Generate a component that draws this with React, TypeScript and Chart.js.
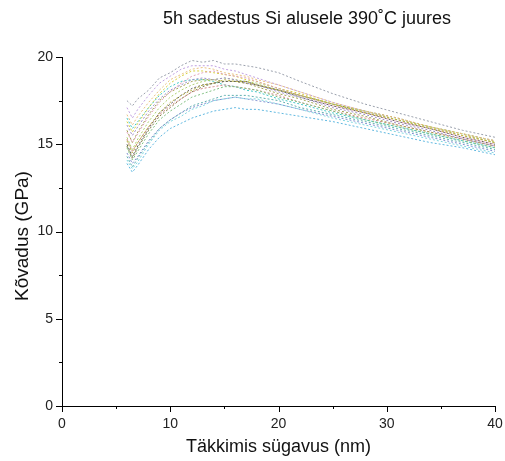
import React, { useEffect, useRef } from "react";
import { Chart, registerables } from "chart.js";

Chart.register(...registerables);

const titleText = "5h sadestus Si alusele 390˚C juures";
const xTitle = "Täkkimis sügavus (nm)";
const yTitle = "Kõvadus (GPa)";

const xTicks = [0, 10, 20, 30, 40];
const yTicks = [0, 5, 10, 15, 20];
const xMinor = [5, 15, 25, 35];
const yMinor = [2.5, 7.5, 12.5, 17.5];

const depth = [6, 6.5, 7, 8, 9, 10, 11, 12, 13, 14, 15, 16, 17, 18, 20, 22, 25, 28, 31, 34, 37, 40];

const s1 = [17.5, 17.2, 17.6, 18.1, 18.8, 19.1, 19.5, 19.8, 19.7, 19.8, 19.6, 19.6, 19.5, 19.4, 19.1, 18.6, 17.9, 17.3, 16.8, 16.3, 15.8, 15.4];
const s2 = [15.2, 14.5, 15.1, 16.0, 16.8, 17.4, 17.8, 18.1, 18.4, 18.5, 18.7, 18.6, 18.6, 18.4, 18.1, 17.8, 17.3, 16.8, 16.4, 15.9, 15.5, 15.1];
const s3 = [14.1, 13.6, 14.0, 15.0, 15.8, 16.3, 16.6, 17.0, 17.2, 17.5, 17.6, 17.7, 17.6, 17.6, 17.3, 17.0, 16.5, 16.1, 15.7, 15.3, 14.9, 14.5];
const s4 = [16.1, 15.5, 16.0, 16.9, 17.6, 18.1, 18.4, 18.7, 18.8, 18.7, 18.8, 18.7, 18.5, 18.4, 18.0, 17.7, 17.1, 16.7, 16.2, 15.8, 15.3, 14.9];
const s5 = [15.7, 15.1, 15.6, 16.6, 17.4, 18.0, 18.5, 18.9, 19.1, 19.2, 19.0, 18.9, 18.8, 18.6, 18.2, 17.8, 17.2, 16.8, 16.3, 15.9, 15.4, 15.0];
const s6 = [14.8, 14.1, 14.6, 15.6, 16.4, 16.9, 17.3, 17.7, 17.9, 18.1, 18.3, 18.3, 18.2, 18.1, 17.7, 17.4, 16.9, 16.4, 16.0, 15.6, 15.2, 14.8];
const s7 = [16.7, 16.1, 16.6, 17.4, 18.1, 18.7, 19.0, 19.3, 19.4, 19.3, 19.1, 19.0, 18.9, 18.7, 18.4, 18.0, 17.4, 16.9, 16.5, 16.0, 15.6, 15.2];
const s8 = [14.5, 13.9, 14.3, 15.2, 15.9, 16.4, 16.8, 17.1, 17.3, 17.5, 17.6, 17.7, 17.6, 17.5, 17.3, 17.0, 16.6, 16.2, 15.8, 15.4, 15.0, 14.6];
const s9 = [15.0, 14.3, 14.9, 15.9, 16.8, 17.3, 17.8, 18.2, 18.4, 18.5, 18.6, 18.6, 18.6, 18.4, 18.1, 17.7, 17.2, 16.8, 16.3, 15.9, 15.4, 15.0];
const s10 = [15.4, 14.7, 15.3, 16.3, 17.1, 17.7, 18.1, 18.4, 18.6, 18.7, 18.8, 18.7, 18.6, 18.5, 18.2, 17.8, 17.3, 16.9, 16.4, 16.0, 15.6, 15.1];
const s11 = [16.3, 15.7, 16.2, 17.1, 17.9, 18.5, 18.9, 19.2, 19.2, 19.1, 19.0, 18.9, 18.7, 18.6, 18.2, 17.9, 17.3, 16.8, 16.4, 16.0, 15.5, 15.1];
const s12 = [14.3, 13.7, 14.2, 15.1, 15.9, 16.4, 16.8, 17.2, 17.4, 17.6, 17.8, 17.8, 17.8, 17.7, 17.5, 17.1, 16.7, 16.3, 15.9, 15.5, 15.1, 14.7];
const s13 = [17.1, 16.5, 17.0, 17.8, 18.5, 18.9, 19.3, 19.5, 19.5, 19.5, 19.3, 19.2, 19.0, 18.8, 18.4, 18.0, 17.4, 16.9, 16.4, 16.0, 15.5, 15.1];
const s14 = [15.8, 15.1, 15.7, 16.7, 17.5, 18.0, 18.3, 18.6, 18.7, 18.7, 18.6, 18.6, 18.5, 18.3, 17.9, 17.6, 17.0, 16.6, 16.1, 15.7, 15.3, 14.9];
const s15 = [13.9, 13.4, 13.8, 14.7, 15.4, 15.9, 16.2, 16.5, 16.7, 16.9, 17.0, 17.1, 17.0, 17.0, 16.8, 16.6, 16.3, 15.9, 15.5, 15.1, 14.8, 14.4];
const s16 = [15.3, 14.6, 15.1, 16.0, 16.7, 17.2, 17.6, 18.0, 18.2, 18.3, 18.4, 18.3, 18.2, 18.1, 17.8, 17.4, 16.9, 16.5, 16.1, 15.7, 15.3, 14.9];
const s17 = [14.9, 14.2, 14.8, 15.8, 16.6, 17.1, 17.6, 18.0, 18.3, 18.5, 18.6, 18.6, 18.5, 18.4, 18.1, 17.8, 17.3, 16.9, 16.5, 16.0, 15.6, 15.2];
const s18 = [16.5, 15.9, 16.3, 17.1, 17.8, 18.3, 18.6, 18.7, 18.7, 18.6, 18.4, 18.3, 18.1, 18.0, 17.6, 17.3, 16.8, 16.4, 16.0, 15.6, 15.2, 14.8];

const seriesList = [s1, s2, s3, s4, s5, s6, s7, s8, s9, s10, s11, s12, s13, s14, s15, s16, s17, s18];
const colors = [
  "#9aa0ac", "#b8b040", "#7fd6e0", "#a090c8", "#e0a0b8", "#80c080",
  "#e8c080", "#8090d0", "#606060", "#b0d070", "#d8d040", "#60b0b0",
  "#c0a0e0", "#a0a050", "#60b8e0", "#d08888", "#808040", "#40c8c8",
];

const annotate = {
  id: "annotate",
  afterDraw(chart: any) {
    const { ctx, scales } = chart;
    const x = scales.x;
    const y = scales.y;
    const left = x.left;
    const bottom = y.bottom;
    ctx.save();
    ctx.strokeStyle = "#000";
    ctx.lineWidth = 1;
    ctx.beginPath();
    ctx.moveTo(Math.round(left) + 0.5, y.top);
    ctx.lineTo(Math.round(left) + 0.5, Math.round(bottom) + 0.5);
    ctx.lineTo(x.right, Math.round(bottom) + 0.5);
    for (const v of xTicks) {
      const px = Math.round(x.getPixelForValue(v)) + 0.5;
      ctx.moveTo(px, bottom);
      ctx.lineTo(px, bottom + 6);
    }
    for (const v of xMinor) {
      const px = Math.round(x.getPixelForValue(v)) + 0.5;
      ctx.moveTo(px, bottom);
      ctx.lineTo(px, bottom + 3);
    }
    for (const v of yTicks) {
      const py = Math.round(y.getPixelForValue(v)) + 0.5;
      ctx.moveTo(left, py);
      ctx.lineTo(left - 6, py);
    }
    for (const v of yMinor) {
      const py = Math.round(y.getPixelForValue(v)) + 0.5;
      ctx.moveTo(left, py);
      ctx.lineTo(left - 3, py);
    }
    ctx.stroke();

    ctx.fillStyle = "#222";
    ctx.font = "14px 'Liberation Sans', Arial, sans-serif";
    ctx.textAlign = "center";
    ctx.textBaseline = "top";
    for (const v of xTicks) {
      ctx.fillText(String(v), x.getPixelForValue(v), bottom + 11);
    }
    ctx.textAlign = "right";
    ctx.textBaseline = "middle";
    for (const v of yTicks) {
      ctx.fillText(String(v), left - 9, y.getPixelForValue(v));
    }

    ctx.fillStyle = "#111";
    ctx.font = "18px 'Liberation Sans', Arial, sans-serif";
    ctx.textAlign = "center";
    ctx.textBaseline = "middle";
    ctx.fillText(titleText, 307, 19);

    ctx.font = "18px 'Liberation Sans', Arial, sans-serif";
    ctx.fillText(xTitle, (x.left + x.right) / 2, 447);

    ctx.font = "19px 'Liberation Sans', Arial, sans-serif";
    ctx.translate(23, 236);
    ctx.rotate(-Math.PI / 2);
    ctx.fillText(yTitle, 0, 0);
    ctx.restore();
  },
};

export default function App() {
  const ref = useRef<HTMLCanvasElement | null>(null);
  useEffect(() => {
    if (!ref.current) return;
    const datasets = seriesList.map((s, i) => ({
      label: "S" + (i + 1),
      data: depth.map((d, j) => ({ x: d, y: s[j] })),
      borderColor: colors[i % colors.length],
      borderWidth: 1,
      borderDash: [2, 2],
      pointRadius: 0,
      fill: false,
      tension: 0,
    }));
    const chart = new Chart(ref.current, {
      type: "line",
      data: { datasets },
      plugins: [annotate],
      options: {
        responsive: false,
        animation: false,
        layout: { padding: { top: 57, right: 10, left: 0, bottom: 0 } },
        plugins: { legend: { display: false }, tooltip: { enabled: false }, title: { display: false } },
        scales: {
          x: {
            type: "linear",
            min: 0,
            max: 40,
            grid: { display: false },
            border: { display: false },
            ticks: { display: false },
            afterFit: (s: any) => { s.height = 55; },
          },
          y: {
            type: "linear",
            min: 0,
            max: 20,
            grid: { display: false },
            border: { display: false },
            ticks: { display: false },
            afterFit: (s: any) => { s.width = 62; },
          },
        },
      },
    });
    return () => chart.destroy();
  }, []);
  return (
    <div style={{ position: "absolute", left: 0, top: 0, width: 505, height: 461, background: "#fff" }}>
      <canvas ref={ref} width={505} height={461} style={{ width: 505, height: 461 }} />
    </div>
  );
}
